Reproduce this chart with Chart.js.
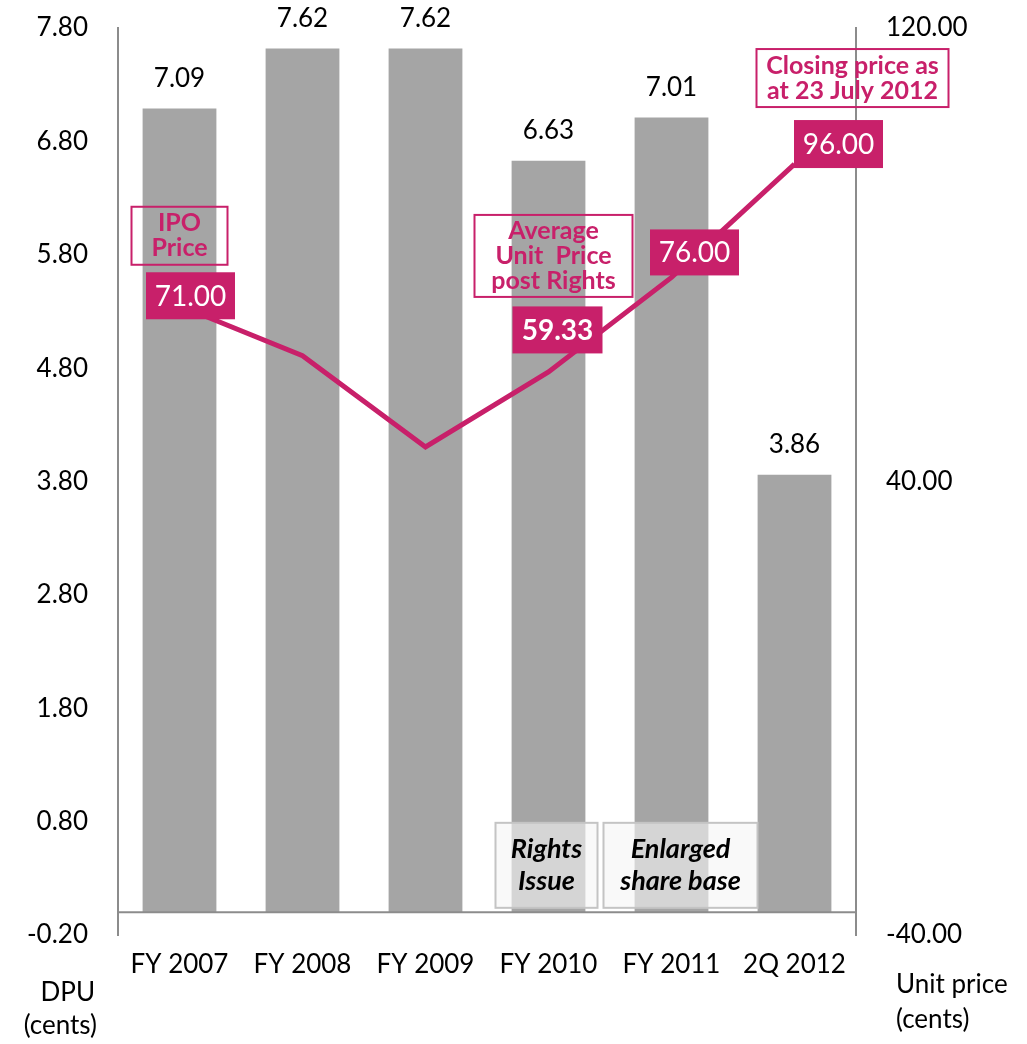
<!DOCTYPE html>
<html>
<head>
<meta charset="utf-8">
<script src="https://cdn.jsdelivr.net/npm/chart.js@4"></script>
<style>
  body { margin: 0; background: #fff; }
  #wrap { width: 1027px; height: 1044px; position: relative; }
</style>
</head>
<body>
<div id="wrap"><canvas id="dpuChart"></canvas></div>
<script>
const categories = ['FY 2007', 'FY 2008', 'FY 2009', 'FY 2010', 'FY 2011', '2Q 2012'];
const dpuValues = [7.09, 7.62, 7.62, 6.63, 7.01, 3.86];
const unitPrices = [71.0, 62.2, 46.1, 59.33, 76.0, 96.0];
const dpuTicks = [-0.2, 0.8, 1.8, 2.8, 3.8, 4.8, 5.8, 6.8, 7.8];
const priceTicks = [-40, 40, 120];

// price tags shown on the line
const priceTagIndex = [0, 3, 4, 5];
const priceTagText = ['71.00', '59.33', '76.00', '96.00'];
// callouts above the line
const noteIndex = [0, 3, 5];
const noteText = [['IPO', 'Price'], ['Average', 'Unit  Price', 'post Rights'], ['Closing price as', 'at 23 July 2012']];
// grey boxes near the base
const baseNoteIndex = [3, 4];
const baseNoteText = [['Rights', 'Issue'], ['Enlarged', 'share base']];

const MAGENTA = '#C8206A';
const FONT = 'Lato, "Liberation Sans", sans-serif';

// layout tweaks per tag: [dx, dy, w, h, bold]
const tagPos = [[11, -10, 89, 47, false], [9, -42, 90, 47, true], [23, -25, 89, 46, false], [44, -20, 89, 48, false]];
const notePos = [[0, -70, 96, 58], [5, -116, 158, 82], [58, -86, 192, 58]];
const baseNotePos = [[-2, -47, 102, 85], [9, -47, 154, 85]];

const annotationsPlugin = {
  id: 'annotations',
  afterDatasetsDraw(chart) {
    const ctx = chart.ctx;
    const x = chart.scales.x;
    const y = chart.scales.y;
    const y2 = chart.scales.y2;
    const area = chart.chartArea;
    ctx.save();

    // zero line
    ctx.strokeStyle = '#8c8c8c';
    ctx.lineWidth = 2;
    ctx.beginPath();
    ctx.moveTo(area.left, y.getPixelForValue(0));
    ctx.lineTo(area.right, y.getPixelForValue(0));
    ctx.stroke();

    // bar values
    ctx.fillStyle = '#000';
    ctx.font = '26px ' + FONT;
    ctx.textAlign = 'center';
    ctx.textBaseline = 'middle';
    dpuValues.forEach((v, i) => {
      ctx.fillText(v.toFixed(2), x.getPixelForValue(i), y.getPixelForValue(v) - 30);
    });

    // grey base notes
    baseNoteIndex.forEach((idx, k) => {
      const p = baseNotePos[k];
      const cx = x.getPixelForValue(idx) + p[0];
      const cy = y.getPixelForValue(0) + p[1];
      ctx.fillStyle = 'rgba(245,245,245,0.6)';
      ctx.fillRect(cx - p[2] / 2, cy - p[3] / 2, p[2], p[3]);
      ctx.strokeStyle = '#c4c4c4';
      ctx.lineWidth = 2;
      ctx.strokeRect(cx - p[2] / 2, cy - p[3] / 2, p[2], p[3]);
      ctx.fillStyle = '#000';
      ctx.font = 'italic bold 27px ' + FONT;
      const lines = baseNoteText[k];
      lines.forEach((t, j) => {
        ctx.fillText(t, cx, cy + (j - (lines.length - 1) / 2) * 32);
      });
    });

    // outlined callouts
    noteIndex.forEach((idx, k) => {
      const p = notePos[k];
      const cx = x.getPixelForValue(idx) + p[0];
      const cy = y2.getPixelForValue(unitPrices[idx]) + p[1];
      ctx.strokeStyle = MAGENTA;
      ctx.lineWidth = 2;
      ctx.strokeRect(cx - p[2] / 2, cy - p[3] / 2, p[2], p[3]);
      ctx.fillStyle = MAGENTA;
      ctx.font = 'bold 25px ' + FONT;
      const lines = noteText[k];
      lines.forEach((t, j) => {
        ctx.fillText(t, cx, cy + (j - (lines.length - 1) / 2) * 25);
      });
    });

    // filled price tags
    priceTagIndex.forEach((idx, k) => {
      const p = tagPos[k];
      const cx = x.getPixelForValue(idx) + p[0];
      const cy = y2.getPixelForValue(unitPrices[idx]) + p[1];
      ctx.fillStyle = MAGENTA;
      ctx.fillRect(cx - p[2] / 2, cy - p[3] / 2, p[2], p[3]);
      ctx.fillStyle = '#fff';
      ctx.font = (p[4] ? 'bold ' : '') + '28px ' + FONT;
      ctx.fillText(priceTagText[k], cx, cy + 1);
    });

    // axis titles under the ticks
    ctx.fillStyle = '#000';
    ctx.font = '26px ' + FONT;
    ctx.textAlign = 'right';
    ctx.fillText('DPU', 95, 993);
    ctx.fillText('(cents)', 97, 1026);
    ctx.textAlign = 'left';
    ctx.fillText('Unit price', 896, 985);
    ctx.fillText('(cents)', 896, 1020);
    ctx.restore();
  }
};

const ctx = document.getElementById('dpuChart').getContext('2d');
new Chart(ctx, {
  data: {
    labels: categories,
    datasets: [
      {
        type: 'line',
        label: 'Unit price',
        data: unitPrices,
        yAxisID: 'y2',
        borderColor: MAGENTA,
        borderWidth: 5,
        pointRadius: 0,
        tension: 0,
        order: 0
      },
      {
        type: 'bar',
        label: 'DPU',
        data: dpuValues,
        yAxisID: 'y',
        backgroundColor: '#A5A5A5',
        categoryPercentage: 1,
        barPercentage: 0.6,
        order: 1
      }
    ]
  },
  options: {
    responsive: true,
    maintainAspectRatio: false,
    animation: false,
    layout: { padding: { top: 28, left: 0, right: 0, bottom: 0 } },
    plugins: {
      legend: { display: false },
      tooltip: { enabled: false }
    },
    scales: {
      x: {
        grid: { display: false, drawTicks: false },
        border: { display: false },
        ticks: { color: '#000', font: { family: FONT, size: 26 }, padding: 14 },
        afterFit: (scale) => { scale.height = 109; }
      },
      y: {
        position: 'left',
        min: -0.2,
        max: 7.8,
        afterBuildTicks: (scale) => { scale.ticks = dpuTicks.map(v => ({ value: v })); },
        grid: { display: false, drawTicks: false },
        border: { display: true, color: '#8c8c8c', width: 2 },
        ticks: {
          color: '#000',
          font: { family: FONT, size: 26 },
          padding: 30,
          callback: (v) => Number(v).toFixed(2)
        },
        afterFit: (scale) => { scale.width = 118; scale.paddingTop = 0; scale.paddingBottom = 0; }
      },
      y2: {
        position: 'right',
        min: -40,
        max: 120,
        afterBuildTicks: (scale) => { scale.ticks = priceTicks.map(v => ({ value: v })); },
        grid: { display: false, drawTicks: false },
        border: { display: true, color: '#8c8c8c', width: 2 },
        ticks: {
          color: '#000',
          font: { family: FONT, size: 26 },
          padding: 30,
          callback: (v) => Number(v).toFixed(2)
        },
        afterFit: (scale) => { scale.width = 171; scale.paddingTop = 0; scale.paddingBottom = 0; }
      }
    }
  },
  plugins: [annotationsPlugin]
});
</script>
</body>
</html>
